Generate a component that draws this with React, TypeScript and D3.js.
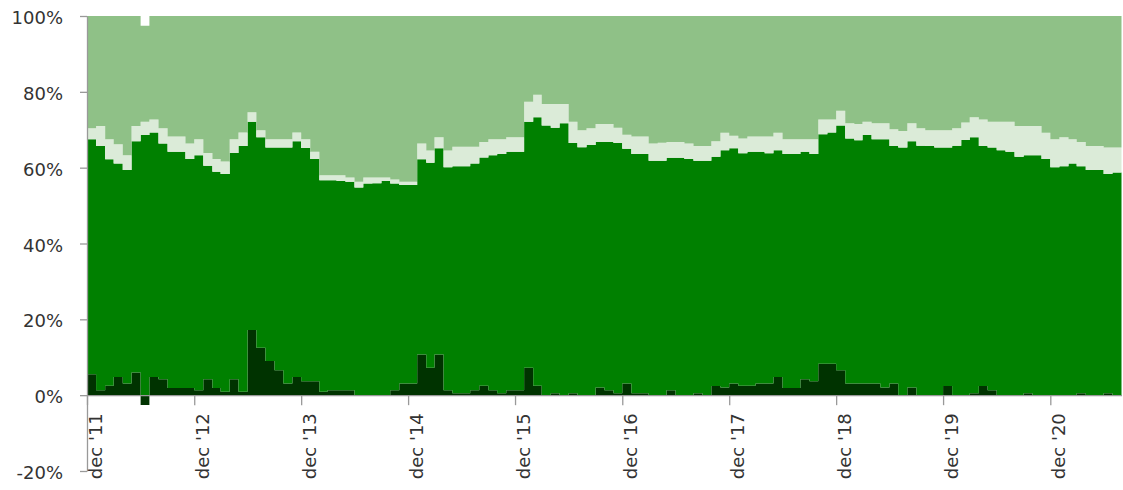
import { useEffect, useRef } from 'react'
import * as d3 from 'd3'

// monthly shares (%), dec '11 .. jul '21
const firstMonth = new Date(2011, 11, 1)
const endMonth = new Date(2021, 7, 1)

const darkShare = [
  5.5, 1.3, 2.5, 4.8, 3.1, 6.0, -2.6, 4.8, 4.2, 1.9, 1.9, 1.9,
  1.3, 4.2, 1.9, 0.9, 4.2, 0.9, 17.2, 12.5, 9.0, 6.6, 3.1, 4.8,
  3.7, 3.7, 0.9, 1.3, 1.3, 1.3, 0, 0, 0, 0, 1.3, 3.1,
  3.1, 10.7, 7.2, 10.7, 1.3, 0.5, 0.5, 1.3, 2.5, 1.3, 0.5, 1.3,
  1.3, 7.2, 2.5, 0, 0.5, 0, 0.5, 0, 0, 2.0, 1.3, 0.5,
  3.1, 0.5, 0.5, 0, 0, 1.3, 0, 0, 0.5, 0, 2.4, 2.0,
  3.1, 2.5, 2.5, 3.1, 3.1, 4.8, 1.9, 1.9, 4.2, 3.7, 8.3, 8.3,
  6.6, 3.1, 3.1, 3.1, 3.1, 2.0, 3.1, 0, 2.0, 0, 0, 0,
  2.4, 0, 0, 0.5, 2.4, 1.3, 0, 0, 0, 0.5, 0, 0,
  0, 0, 0, 0.5, 0, 0, 0.5, 0,
]

const greenShare = [
  62.0, 64.4, 59.7, 56.3, 56.3, 61.0, 68.6, 64.5, 62.2, 62.3, 62.3, 60.4,
  62.0, 56.3, 57.0, 57.4, 59.7, 64.8, 54.9, 55.5, 56.3, 58.7, 62.2, 62.2,
  61.5, 58.6, 55.8, 55.4, 55.2, 55.0, 54.8, 55.8, 55.9, 56.5, 54.5, 52.3,
  52.3, 51.5, 54.1, 54.4, 58.8, 59.9, 59.9, 59.8, 60.2, 62.0, 63.1, 62.9,
  62.9, 64.9, 70.8, 71.1, 70.0, 71.7, 66.0, 65.4, 66.0, 64.8, 65.5, 66.0,
  61.9, 63.1, 63.1, 61.8, 61.8, 61.3, 62.6, 62.3, 61.3, 61.8, 60.5, 62.6,
  62.0, 61.3, 61.7, 61.1, 60.7, 59.8, 61.7, 61.7, 60.0, 59.9, 60.5, 61.0,
  64.5, 64.6, 64.1, 65.5, 64.4, 65.5, 62.6, 65.3, 65.0, 65.8, 65.7, 65.3,
  62.9, 65.8, 67.3, 67.5, 63.3, 64.0, 64.6, 64.2, 62.9, 62.8, 63.3, 62.3,
  60.1, 60.4, 61.1, 59.9, 59.4, 59.4, 57.8, 58.7,
]

const paleShare = [
  2.9, 5.3, 5.3, 5.1, 3.9, 4.0, 3.5, 3.4, 4.0, 4.0, 4.0, 4.1,
  4.2, 3.4, 3.4, 3.3, 3.6, 3.6, 2.5, 1.9, 2.2, 2.2, 2.2, 2.3,
  2.3, 1.9, 1.3, 1.3, 1.5, 1.1, 1.5, 1.6, 1.5, 0.9, 1.1, 0.9,
  0.9, 4.2, 3.2, 2.9, 4.4, 5.1, 5.1, 4.4, 4.1, 4.2, 3.9, 3.8,
  3.8, 5.3, 5.9, 5.7, 6.3, 5.1, 5.6, 4.5, 4.4, 4.7, 4.7, 4.0,
  3.7, 4.6, 4.6, 4.6, 4.8, 4.2, 4.2, 4.1, 3.9, 3.9, 4.1, 4.6,
  3.3, 3.9, 4.0, 4.0, 4.4, 4.6, 3.9, 3.9, 3.3, 3.9, 3.9, 3.4,
  3.9, 4.0, 4.3, 3.5, 4.2, 4.2, 4.4, 4.4, 4.7, 4.6, 4.2, 4.6,
  4.6, 4.6, 4.6, 5.3, 7.0, 6.8, 7.5, 7.9, 8.1, 7.7, 7.7, 6.9,
  7.4, 7.6, 6.4, 6.4, 6.3, 6.3, 7.0, 6.6,
]

const restShare = [
  29.6, 29.0, 32.5, 33.8, 36.7, 29.0, 25.3, 27.3, 29.6, 31.8, 31.8, 33.6,
  32.5, 36.1, 37.7, 38.4, 32.5, 30.7, 25.4, 30.1, 32.5, 32.5, 32.5, 30.7,
  32.5, 35.8, 42.0, 42.0, 42.0, 42.6, 43.7, 42.6, 42.6, 42.6, 43.1, 43.7,
  43.7, 33.6, 35.5, 32.0, 35.5, 34.5, 34.5, 34.5, 33.2, 32.5, 32.5, 32.0,
  32.0, 22.6, 20.8, 23.2, 23.2, 23.2, 27.9, 30.1, 29.6, 28.5, 28.5, 29.5,
  31.3, 31.8, 31.8, 33.6, 33.4, 33.2, 33.2, 33.6, 34.3, 34.3, 33.0, 30.8,
  31.6, 32.3, 31.8, 31.8, 31.8, 30.8, 32.5, 32.5, 32.5, 32.5, 27.3, 27.3,
  25.0, 28.3, 28.5, 27.9, 28.3, 28.3, 29.9, 30.3, 28.3, 29.6, 30.1, 30.1,
  30.1, 29.6, 28.1, 26.7, 27.3, 27.9, 27.9, 27.9, 29.0, 29.0, 29.0, 30.8,
  32.5, 32.0, 32.5, 33.2, 34.3, 34.3, 34.7, 34.7,
]

const yTicks = [-20, 0, 20, 40, 60, 80, 100]
const keys = ['dark', 'green', 'pale', 'rest'] as const
const colors: Record<string, string> = {
  dark: '#003300',
  green: '#008000',
  pale: '#dbebd8',
  rest: '#8fc187',
}

type Row = { date: Date; dark: number; green: number; pale: number; rest: number }

const App = () => {
  const svgRef = useRef<SVGSVGElement | null>(null)

  useEffect(() => {
    if (!svgRef.current) return
    const svg = d3.select(svgRef.current)
    svg.selectAll('*').remove()

    const width = 1123
    const height = 490
    const left = 87
    const right = 1121.5
    const top = 16
    const bottom = 471

    const months = d3.timeMonth.range(firstMonth, endMonth)
    const rows: Row[] = months.map((date, i) => ({
      date,
      dark: darkShare[i],
      green: greenShare[i],
      pale: paleShare[i],
      rest: restShare[i],
    }))
    // extra row so the last step reaches the right edge
    rows.push({ ...rows[rows.length - 1], date: endMonth })

    const x = d3.scaleTime().domain([firstMonth, endMonth]).range([left, right])
    const y = d3.scaleLinear().domain([-20, 100]).range([bottom, top])

    const stacked = d3
      .stack<Row>()
      .keys(keys as unknown as string[])
      .offset(d3.stackOffsetDiverging)(rows)

    const area = d3
      .area<d3.SeriesPoint<Row>>()
      .curve(d3.curveStepAfter)
      .x((d) => x(d.data.date))
      .y0((d) => y(d[0]))
      .y1((d) => y(d[1]))

    svg.attr('width', width).attr('height', height)

    svg
      .append('g')
      .selectAll('path')
      .data(stacked)
      .join('path')
      .attr('fill', (d) => colors[d.key])
      .attr('d', area)

    const font = "'DejaVu Sans', sans-serif"

    // y axis
    const yAxis = d3
      .axisLeft(y)
      .tickValues(yTicks)
      .tickFormat((d) => `${d}%`)
      .tickSize(7)
      .tickSizeOuter(0)
      .tickPadding(17)
    const gy = svg.append('g').attr('transform', `translate(${left},0)`).call(yAxis)
    gy.selectAll('path, line').attr('stroke', '#999').attr('stroke-width', 1.3)
    gy.selectAll('text')
      .attr('font-family', font)
      .attr('font-size', 18)
      .attr('fill', '#333')
      .attr('dy', '0.42em')

    // x axis on the 0% line
    const decTicks = d3.timeYear
      .range(new Date(2011, 0, 1), new Date(2021, 0, 1))
      .map((d) => new Date(d.getFullYear(), 11, 1))
    const xAxis = d3
      .axisBottom<Date>(x)
      .tickValues(decTicks)
      .tickFormat(d3.timeFormat("dec '%y"))
      .tickSize(10)
      .tickSizeOuter(0)
    const gx = svg.append('g').attr('transform', `translate(0,${y(0)})`).call(xAxis)
    gx.selectAll('path, line').attr('stroke', '#999').attr('stroke-width', 1.3)
    gx.selectAll('text')
      .attr('font-family', font)
      .attr('font-size', 18)
      .attr('fill', '#333')
      .attr('text-anchor', 'end')
      .attr('transform', 'rotate(-90)')
      .attr('x', -18)
      .attr('y', 14)
      .attr('dy', 0)
  }, [])

  return (
    <svg
      ref={svgRef}
      style={{ position: 'absolute', left: 0, top: 0, display: 'block' }}
    ></svg>
  )
}

export default App
